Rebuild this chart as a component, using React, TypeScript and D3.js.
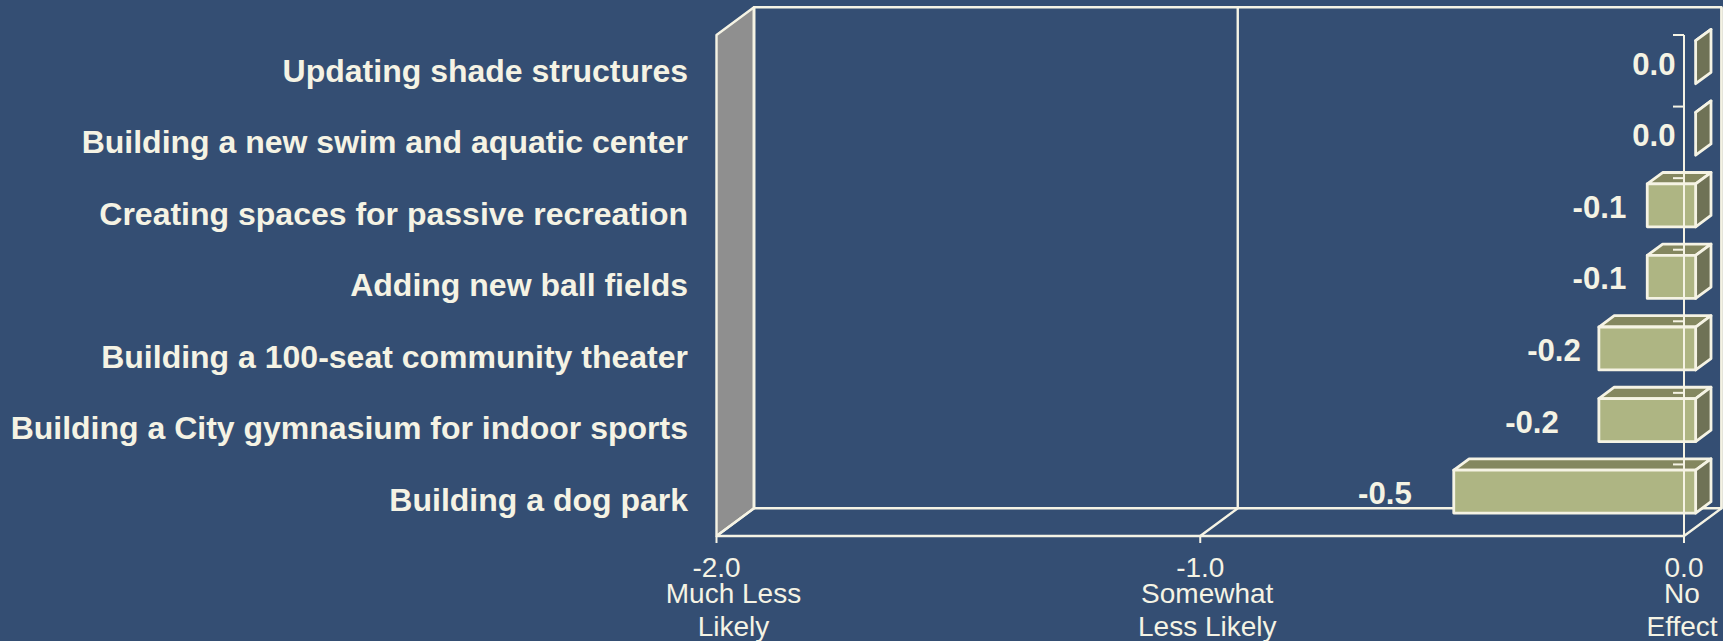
import * as d3 from 'd3'
import { useEffect, useRef } from 'react'

const CATEGORIES = [
  'Updating shade structures',
  'Building a new swim and aquatic center',
  'Creating spaces for passive recreation',
  'Adding new ball fields',
  'Building a 100-seat community theater',
  'Building a City gymnasium for indoor sports',
  'Building a dog park',
]
const VALUES = [0, 0, -0.1, -0.1, -0.2, -0.2, -0.5]
const VALUE_LABELS = ['0.0', '0.0', '-0.1', '-0.1', '-0.2', '-0.2', '-0.5']
const X_TICKS = [-2, -1, 0]
const X_TICK_LABELS = ['-2.0', '-1.0', '0.0']
const X_CAPTIONS = [
  ['Much Less', 'Likely'],
  ['Somewhat', 'Less Likely'],
  ['No', 'Effect'],
]

const WIDTH = 1723
const HEIGHT = 641
const BG = '#344e73'
const INK = '#f5f3e4'
const FONT = '"Liberation Sans", Arial, sans-serif'

// 3d offset of the back wall against the front plane
const DEPTH_X = 37.5
const DEPTH_Y = -27.7
const BAR_NEAR = 0.31
const BAR_FAR = 0.72

export default function App() {
  const ref = useRef<SVGSVGElement>(null)

  useEffect(() => {
    document.body.style.margin = '0'
    const svg = d3.select(ref.current)
    svg.selectAll('*').remove()

    const x = d3.scaleLinear().domain([-2, 0]).range([716.5, 1684])
    const y = d3
      .scaleBand()
      .domain(CATEGORIES)
      .range([35, 536])
      .paddingInner(0.4)
      .paddingOuter(0.2)

    const [top, bottom] = y.range()
    const [left, right] = x.range()
    const pts = (p: number[][]) => p.map((d) => d.join(',')).join(' ')

    /* walls and floor */
    const walls = svg
      .append('g')
      .attr('stroke', INK)
      .attr('stroke-width', 2.4)
      .attr('stroke-linejoin', 'round')
    walls
      .append('polygon')
      .attr('fill', '#8f8f8f')
      .attr(
        'points',
        pts([
          [left, top],
          [left + DEPTH_X, top + DEPTH_Y],
          [left + DEPTH_X, bottom + DEPTH_Y],
          [left, bottom],
        ]),
      )
    walls
      .append('rect')
      .attr('fill', 'none')
      .attr('x', left + DEPTH_X)
      .attr('y', top + DEPTH_Y)
      .attr('width', right - left)
      .attr('height', bottom - top)
    walls
      .append('line')
      .attr('x1', left)
      .attr('x2', right)
      .attr('y1', bottom)
      .attr('y2', bottom)

    /* grid: back wall line plus floor diagonal */
    walls
      .selectAll('polyline.grid')
      .data(X_TICKS)
      .join('polyline')
      .attr('class', 'grid')
      .attr('fill', 'none')
      .attr('points', (d) =>
        pts([
          [x(d) + DEPTH_X, top + DEPTH_Y],
          [x(d) + DEPTH_X, bottom + DEPTH_Y],
          [x(d), bottom],
        ]),
      )

    /* bars */
    const bars = svg
      .append('g')
      .attr('stroke', INK)
      .attr('stroke-width', 2.8)
      .attr('stroke-linejoin', 'round')
      .selectAll('g')
      .data(VALUES)
      .join('g')

    const xn = (v: number) => x(v) + DEPTH_X * BAR_NEAR
    const xf = (v: number) => x(v) + DEPTH_X * BAR_FAR
    const yn = (i: number) => (y(CATEGORIES[i]) as number) + DEPTH_Y * BAR_NEAR
    const yf = (i: number) => (y(CATEGORIES[i]) as number) + DEPTH_Y * BAR_FAR
    const bw = y.bandwidth()

    bars
      .append('polygon')
      .attr('fill', '#84875f')
      .attr('points', (v, i) =>
        pts([
          [xn(v), yn(i)],
          [xf(v), yf(i)],
          [xf(0), yf(i)],
          [xn(0), yn(i)],
        ]),
      )
    bars
      .append('polygon')
      .attr('fill', '#6f7256')
      .attr('points', (v, i) =>
        pts([
          [xn(0), yn(i)],
          [xf(0), yf(i)],
          [xf(0), yf(i) + bw],
          [xn(0), yn(i) + bw],
        ]),
      )
    bars
      .append('rect')
      .attr('fill', '#aeb583')
      .attr('x', (v) => xn(v))
      .attr('y', (v, i) => yn(i))
      .attr('width', (v) => xn(0) - xn(v))
      .attr('height', bw)

    /* axes on top of the bars */
    const axis = svg
      .append('g')
      .attr('stroke', INK)
      .attr('stroke-width', 2)
    axis
      .append('line')
      .attr('x1', right)
      .attr('x2', right)
      .attr('y1', top)
      .attr('y2', bottom)
    const step = y.step()
    axis
      .selectAll('line.ytick')
      .data(d3.range(CATEGORIES.length + 1))
      .join('line')
      .attr('class', 'ytick')
      .attr('x1', right - 11)
      .attr('x2', right)
      .attr('y1', (d) => top + d * step)
      .attr('y2', (d) => top + d * step)
    axis
      .selectAll('line.xtick')
      .data(X_TICKS)
      .join('line')
      .attr('class', 'xtick')
      .attr('x1', (d) => x(d))
      .attr('x2', (d) => x(d))
      .attr('y1', bottom)
      .attr('y2', bottom + 7)

    /* category labels */
    svg
      .append('g')
      .attr('fill', INK)
      .attr('font-family', FONT)
      .attr('font-weight', 700)
      .attr('font-size', 32)
      .attr('text-anchor', 'end')
      .selectAll('text')
      .data(CATEGORIES)
      .join('text')
      .attr('x', 688)
      .attr('y', (d) => (y(d) as number) + bw / 2 + 10.8)
      .text((d) => d)

    /* value labels, the last two sit further out in the source */
    const labelGap = [20, 20, 21, 21, 18, 40, 42]
    svg
      .append('g')
      .attr('fill', INK)
      .attr('font-family', FONT)
      .attr('font-weight', 700)
      .attr('font-size', 31.2)
      .attr('text-anchor', 'end')
      .selectAll('text')
      .data(VALUES)
      .join('text')
      .attr('x', (v, i) => xn(v) - labelGap[i])
      .attr('y', (v, i) => yn(i) + bw / 2 + 12.5)
      .text((v, i) => VALUE_LABELS[i])

    /* x tick labels and captions */
    const captionShift = [17, 7, -2]
    const ticks = svg
      .append('g')
      .attr('fill', INK)
      .attr('font-family', FONT)
      .attr('font-size', 28)
      .attr('text-anchor', 'middle')
      .selectAll('g')
      .data(X_TICKS)
      .join('g')
    ticks
      .append('text')
      .attr('x', (d) => x(d))
      .attr('y', 576.5)
      .text((d, i) => X_TICK_LABELS[i])
    ticks
      .append('text')
      .attr('x', (d, i) => x(d) + captionShift[i])
      .attr('y', 603)
      .text((d, i) => X_CAPTIONS[i][0])
    ticks
      .append('text')
      .attr('x', (d, i) => x(d) + captionShift[i])
      .attr('y', 635.5)
      .text((d, i) => X_CAPTIONS[i][1])
  }, [])

  return (
    <svg
      ref={ref}
      width={WIDTH}
      height={HEIGHT}
      viewBox={`0 0 ${WIDTH} ${HEIGHT}`}
      style={{ display: 'block', background: BG }}
    />
  )
}
